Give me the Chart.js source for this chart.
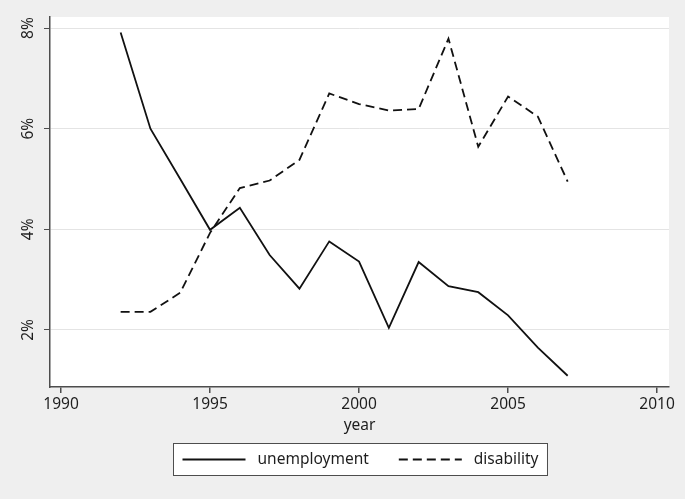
<!DOCTYPE html>
<html lang="en">
<head>
    <meta charset="UTF-8">
    <title>Unemployment and disability</title>
    <style>
        body {
            margin: 0;
            background: #efefef;
        }

        .chart-box {
            width: 685px;
            height: 499px;
        }
    </style>
</head>
<body>
    <div class="chart-box">
        <canvas id="myChart"></canvas>
    </div>

    <script src="https://cdn.jsdelivr.net/npm/chart.js"></script>
    <script>
        // Data (percent)
        const years = [1992, 1993, 1994, 1995, 1996, 1997, 1998, 1999, 2000, 2001, 2002, 2003, 2004, 2005, 2006, 2007];
        const unemployment = [7.91, 6.0, 5.0, 3.99, 4.43, 3.49, 2.82, 3.76, 3.36, 2.04, 3.35, 2.87, 2.75, 2.29, 1.65, 1.09];
        const disability = [2.36, 2.36, 2.74, 3.93, 4.82, 4.97, 5.38, 6.70, 6.49, 6.36, 6.39, 7.79, 5.64, 6.64, 6.24, 4.95];
        const xTicks = [1990, 1995, 2000, 2005, 2010];
        const yTicks = [2, 4, 6, 8];

        Chart.defaults.font.family = "'Noto Sans', sans-serif";
        Chart.defaults.font.size = 15;

        const axisColor = '#4d4d4d';
        const textColor = '#1e1e1e';

        function toPoints(values) {
            return years.map((yr, i) => ({ x: yr, y: values[i] }));
        }

        // gray page + white plot region
        const background = {
            id: 'background',
            beforeDraw(chart) {
                const ctx = chart.ctx;
                const a = chart.chartArea;
                ctx.save();
                ctx.fillStyle = '#efefef';
                ctx.fillRect(0, 0, chart.width, chart.height);
                ctx.fillStyle = '#ffffff';
                ctx.fillRect(a.left, a.top, a.right - a.left, a.bottom - a.top);
                ctx.restore();
            }
        };

        // y labels are written sideways, centred on their tick
        const sideLabels = {
            id: 'sideLabels',
            afterDraw(chart) {
                const ctx = chart.ctx;
                const scale = chart.scales.y;
                ctx.save();
                ctx.fillStyle = textColor;
                ctx.font = "15.5px 'Noto Sans', sans-serif";
                ctx.textAlign = 'center';
                ctx.textBaseline = 'middle';
                scale.ticks.forEach(t => {
                    const y = scale.getPixelForValue(t.value);
                    ctx.save();
                    ctx.translate(28.5, y);
                    ctx.rotate(-Math.PI / 2);
                    ctx.fillText(t.value + '%', 0, 0);
                    ctx.restore();
                });
                ctx.restore();
            }
        };

        // legend in a framed box under the axis title
        const boxLegend = {
            id: 'boxLegend',
            afterDraw(chart) {
                const ctx = chart.ctx;
                const sets = chart.data.datasets;
                const sample = 63, gapText = 12, gapItem = 30, pad = 9;
                ctx.save();
                ctx.font = "15.5px 'Noto Sans', sans-serif";
                const widths = sets.map(d => ctx.measureText(d.label).width);
                let total = pad * 2 + gapItem * (sets.length - 1);
                widths.forEach(w => total += sample + gapText + w);
                const cx = (chart.chartArea.left + chart.chartArea.right) / 2;
                const left = Math.round(cx - total / 2) + 0.5;
                const top = 443.5, h = 32;
                ctx.fillStyle = '#ffffff';
                ctx.fillRect(left, top, total, h);
                ctx.strokeStyle = axisColor;
                ctx.lineWidth = 1;
                ctx.strokeRect(left, top, total, h);
                let x = left + pad;
                const my = top + h / 2;
                sets.forEach((d, i) => {
                    ctx.beginPath();
                    ctx.strokeStyle = d.borderColor;
                    ctx.lineWidth = d.borderWidth;
                    ctx.setLineDash(d.borderDash || []);
                    ctx.moveTo(x, my);
                    ctx.lineTo(x + sample, my);
                    ctx.stroke();
                    ctx.setLineDash([]);
                    x += sample + gapText;
                    ctx.fillStyle = textColor;
                    ctx.textBaseline = 'middle';
                    ctx.fillText(d.label, x, my);
                    x += widths[i] + gapItem;
                });
                ctx.restore();
            }
        };

        const data = {
            datasets: [{
                label: 'unemployment',
                data: toPoints(unemployment),
                borderColor: '#111',
                borderWidth: 1.8
            }, {
                label: 'disability',
                data: toPoints(disability),
                borderColor: '#111',
                borderWidth: 1.8,
                borderDash: [9, 5]
            }]
        };

        const config = {
            type: 'line',
            data: data,
            options: {
                responsive: true,
                maintainAspectRatio: false,
                animation: false,
                layout: {
                    padding: { top: 17, right: 16, bottom: 62, left: 0 }
                },
                elements: {
                    point: { radius: 0 },
                    line: { tension: 0, fill: false }
                },
                plugins: {
                    legend: { display: false },
                    tooltip: { enabled: false }
                },
                scales: {
                    x: {
                        type: 'linear',
                        min: 1989.63,
                        max: 2010.4,
                        border: { color: axisColor, width: 1.5 },
                        grid: { drawOnChartArea: false, tickLength: 6, tickColor: axisColor, lineWidth: 1.5 },
                        ticks: {
                            color: textColor,
                            padding: 2,
                            maxRotation: 0,
                            font: { size: 15.5 },
                            callback: v => String(v)
                        },
                        title: {
                            display: true,
                            text: 'year',
                            color: textColor,
                            font: { size: 15.5 },
                            padding: { top: 0, bottom: 2 }
                        },
                        afterBuildTicks: s => { s.ticks = xTicks.map(v => ({ value: v })); },
                        afterFit: s => { s.height = 50; }
                    },
                    y: {
                        min: 0.866,
                        max: 8.22,
                        border: { color: axisColor, width: 1.5 },
                        grid: { color: '#e4e4e4', tickLength: 6, tickColor: axisColor },
                        ticks: { color: 'rgba(0,0,0,0)', callback: v => v + '%' },
                        afterBuildTicks: s => { s.ticks = yTicks.map(v => ({ value: v })); },
                        afterFit: s => { s.width = 50; }
                    }
                }
            },
            plugins: [background, sideLabels, boxLegend]
        };

        var myChart = new Chart(document.getElementById('myChart'), config);
    </script>
</body>
</html>
